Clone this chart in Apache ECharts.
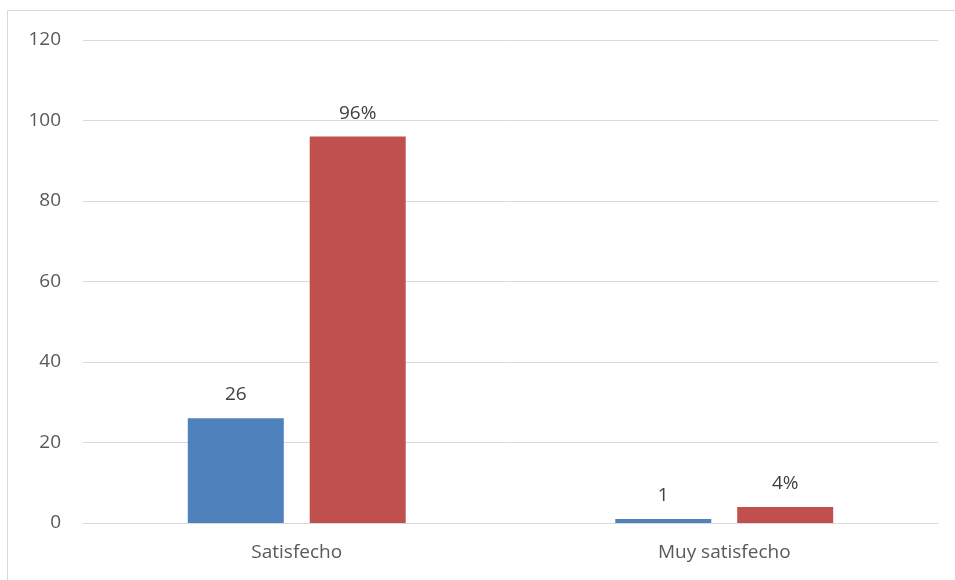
<!DOCTYPE html>
<html>
<head>
<meta charset="utf-8">
<script src="https://cdn.jsdelivr.net/npm/echarts@6/dist/echarts.min.js"></script>
<style>
  html, body { margin: 0; padding: 0; background: #fff; }
  #frame { position: absolute; left: 7px; top: 10px; width: 960px; height: 580px; border: 1px solid #d9d9d9; box-sizing: border-box; }
  #echarts { position: absolute; left: 0; top: 0; width: 955px; height: 580px; }
</style>
</head>
<body>
<div id="frame"></div>
<div id="echarts"></div>
<script>
var categories = ['Satisfecho', 'Muy satisfecho'];
var countData = [26, 1];
var percentData = [96, 4];
var yTicks = [0, 20, 40, 60, 80, 100, 120];

var myChart = echarts.init(document.getElementById('echarts'));

var labelFont = {
    show: true,
    position: 'top',
    distance: 14,
    color: '#404040',
    fontSize: 19,
    fontFamily: 'Open Sans, Liberation Sans, sans-serif'
};

var option = {
    animation: false,
    grid: { left: 83, right: 17, top: 40, bottom: 57 },
    xAxis: {
        type: 'category',
        data: categories,
        axisLine: { lineStyle: { color: '#d9d9d9', width: 1 } },
        axisTick: { show: false },
        axisLabel: {
            color: '#595959',
            fontSize: 19,
            margin: 20,
            fontFamily: 'Open Sans, Liberation Sans, sans-serif'
        }
    },
    yAxis: {
        type: 'value',
        min: yTicks[0],
        max: yTicks[yTicks.length - 1],
        interval: 20,
        axisLine: { show: false },
        axisTick: { show: false },
        splitLine: { lineStyle: { color: '#d9d9d9', width: 1 } },
        axisLabel: {
            color: '#595959',
            fontSize: 19,
            margin: 22,
            fontFamily: 'Open Sans, Liberation Sans, sans-serif'
        }
    },
    series: [{
        name: 'Cantidad',
        type: 'bar',
        barWidth: 96,
        barGap: '27%',
        itemStyle: { color: '#4f81bd' },
        label: labelFont,
        data: countData
    }, {
        name: 'Porcentaje',
        type: 'bar',
        barWidth: 96,
        itemStyle: { color: '#c0504d' },
        label: Object.assign({}, labelFont, { formatter: '{c}%' }),
        data: percentData
    }]
};

myChart.setOption(option);
</script>
</body>
</html>
